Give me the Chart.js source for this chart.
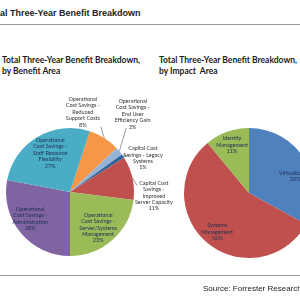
<!DOCTYPE html>
<html>
<head>
<meta charset="utf-8">
<script src="https://cdn.jsdelivr.net/npm/chart.js@4"></script>
<style>
  html, body { margin: 0; padding: 0; width: 300px; height: 300px; overflow: hidden; background: #fff; }
  .abs { position: absolute; }
  #mainTitle { left: 0; top: 8px; font: bold 9px "Liberation Sans", Arial, sans-serif; color: #222; white-space: nowrap; }
  .rule { left: 0; width: 300px; height: 0; border-top: 1px solid #9a9a9a; }
  .sub { font: bold 8.5px Lato, "Open Sans", sans-serif; color: #1a1a1a; line-height: 11px; white-space: nowrap; }
  #source { left: 203px; top: 284px; font: 8px "Liberation Sans", Arial, sans-serif; color: #222; white-space: nowrap; }
</style>
</head>
<body>
<div id="mainTitle" class="abs">al Three-Year Benefit Breakdown</div>
<div class="abs rule" style="top:24px"></div>
<div class="abs sub" style="left:2px; top:55px">Total Three-Year Benefit Breakdown,<br>by Benefit Area</div>
<div class="abs sub" style="left:159px; top:55px">Total Three-Year Benefit Breakdown,<br>by Impact&nbsp; Area</div>
<canvas id="benefitChart" class="abs" style="left:0; top:90px" width="180" height="170"></canvas>
<canvas id="impactChart" class="abs" style="left:160px; top:120px" width="200" height="145"></canvas>
<div class="abs rule" style="top:275px"></div>
<div id="source" class="abs">Source: Forrester Research</div>

<script>
// data
const benefitLabels = [
  ["Operational", "Cost Savings -", "Reduced", "Support Costs"],
  ["Operational", "Cost Savings -", "End User", "Efficiency Gain"],
  ["Capital Cost", "Savings - Legacy", "Systems"],
  ["Capital Cost", "Savings -", "Improved", "Server Capacity"],
  ["Operational", "Cost Savings -", "Server/Systems", "Management"],
  ["Operational", "Cost Savings -", "Administration"],
  ["Operational", "Cost Savings -", "Staff Resource", "Flexibility"]
];
const benefitValues = [8, 2, 1, 11, 23, 28, 27];
const benefitColors = ["#F79646", "#95B3D7", "#2F6496", "#C0504D", "#9BBB59", "#8064A2", "#4BACC6"];

const impactLabels = [["Virtualization"], ["Systems", "Management"], ["Identity", "Management"]];
const impactValues = [33, 56, 11];
const impactColors = ["#4F81BD", "#C0504D", "#9BBB59"];

// label placement, in units of pie radius from the centre
const benefitLabelPos = [
  { x: 0.20, y: -1.25, lead: [0.48, -1.02], color: "#333" },
  { x: 0.98, y: -1.22, lead: [0.88, -1.0], color: "#333" },
  { x: 1.14, y: -0.53, lead: [0.92, -0.58], color: "#333" },
  { x: 1.31, y: 0.06, lead: [1.05, -0.10], color: "#333" },
  { x: 0.44, y: 0.56, color: "#1F2F55" },
  { x: -0.62, y: 0.42, color: "#1F2F55" },
  { x: -0.31, y: -0.61, color: "#1F2F55" }
];
const impactLabelPos = [
  { x: 0.71, y: -0.26, color: "#1F2F55" },
  { x: -0.49, y: 0.60, color: "#1F2F55" },
  { x: -0.26, y: -0.74, color: "#1F2F55" }
];

const sliceLabels = {
  id: "sliceLabels",
  afterDatasetsDraw(chart, args, opts) {
    const ctx = chart.ctx;
    const meta = chart.getDatasetMeta(0);
    const values = chart.data.datasets[0].data;
    ctx.save();
    ctx.font = "5.5px Lato, 'Open Sans', sans-serif";
    ctx.textAlign = "center";
    ctx.textBaseline = "middle";
    meta.data.forEach((arc, i) => {
      const p = opts.pos[i];
      const r = arc.outerRadius;
      const lines = chart.data.labels[i].concat([values[i] + "%"]);
      const lh = 6.4;
      const cx = arc.x + p.x * r;
      const cy = arc.y + p.y * r;
      if (p.lead) {
        const mid = (arc.startAngle + arc.endAngle) / 2;
        ctx.strokeStyle = "#555";
        ctx.lineWidth = 0.6;
        ctx.beginPath();
        ctx.moveTo(arc.x + Math.cos(mid) * r, arc.y + Math.sin(mid) * r);
        ctx.lineTo(arc.x + p.lead[0] * r, arc.y + p.lead[1] * r);
        ctx.stroke();
      }
      ctx.fillStyle = p.color;
      lines.forEach((t, k) => {
        ctx.fillText(t, cx, cy + (k - (lines.length - 1) / 2) * lh);
      });
    });
    ctx.restore();
  }
};

function makePie(id, labels, values, colors, rotation, padding, pos) {
  return new Chart(document.getElementById(id), {
    type: "pie",
    data: {
      labels: labels,
      datasets: [{ data: values, backgroundColor: colors, borderWidth: 0 }]
    },
    options: {
      responsive: false,
      animation: false,
      rotation: rotation,
      layout: { padding: padding },
      plugins: {
        legend: { display: false },
        tooltip: { enabled: false },
        sliceLabels: { pos: pos }
      }
    },
    plugins: [sliceLabels]
  });
}

makePie("benefitChart", benefitLabels, benefitValues, benefitColors, 18,
  { left: 6, right: 46, top: 38, bottom: 4 }, benefitLabelPos);
makePie("impactChart", impactLabels, impactValues, impactColors, 0,
  { left: 24, right: 46, top: 8, bottom: 7 }, impactLabelPos);
</script>
</body>
</html>
